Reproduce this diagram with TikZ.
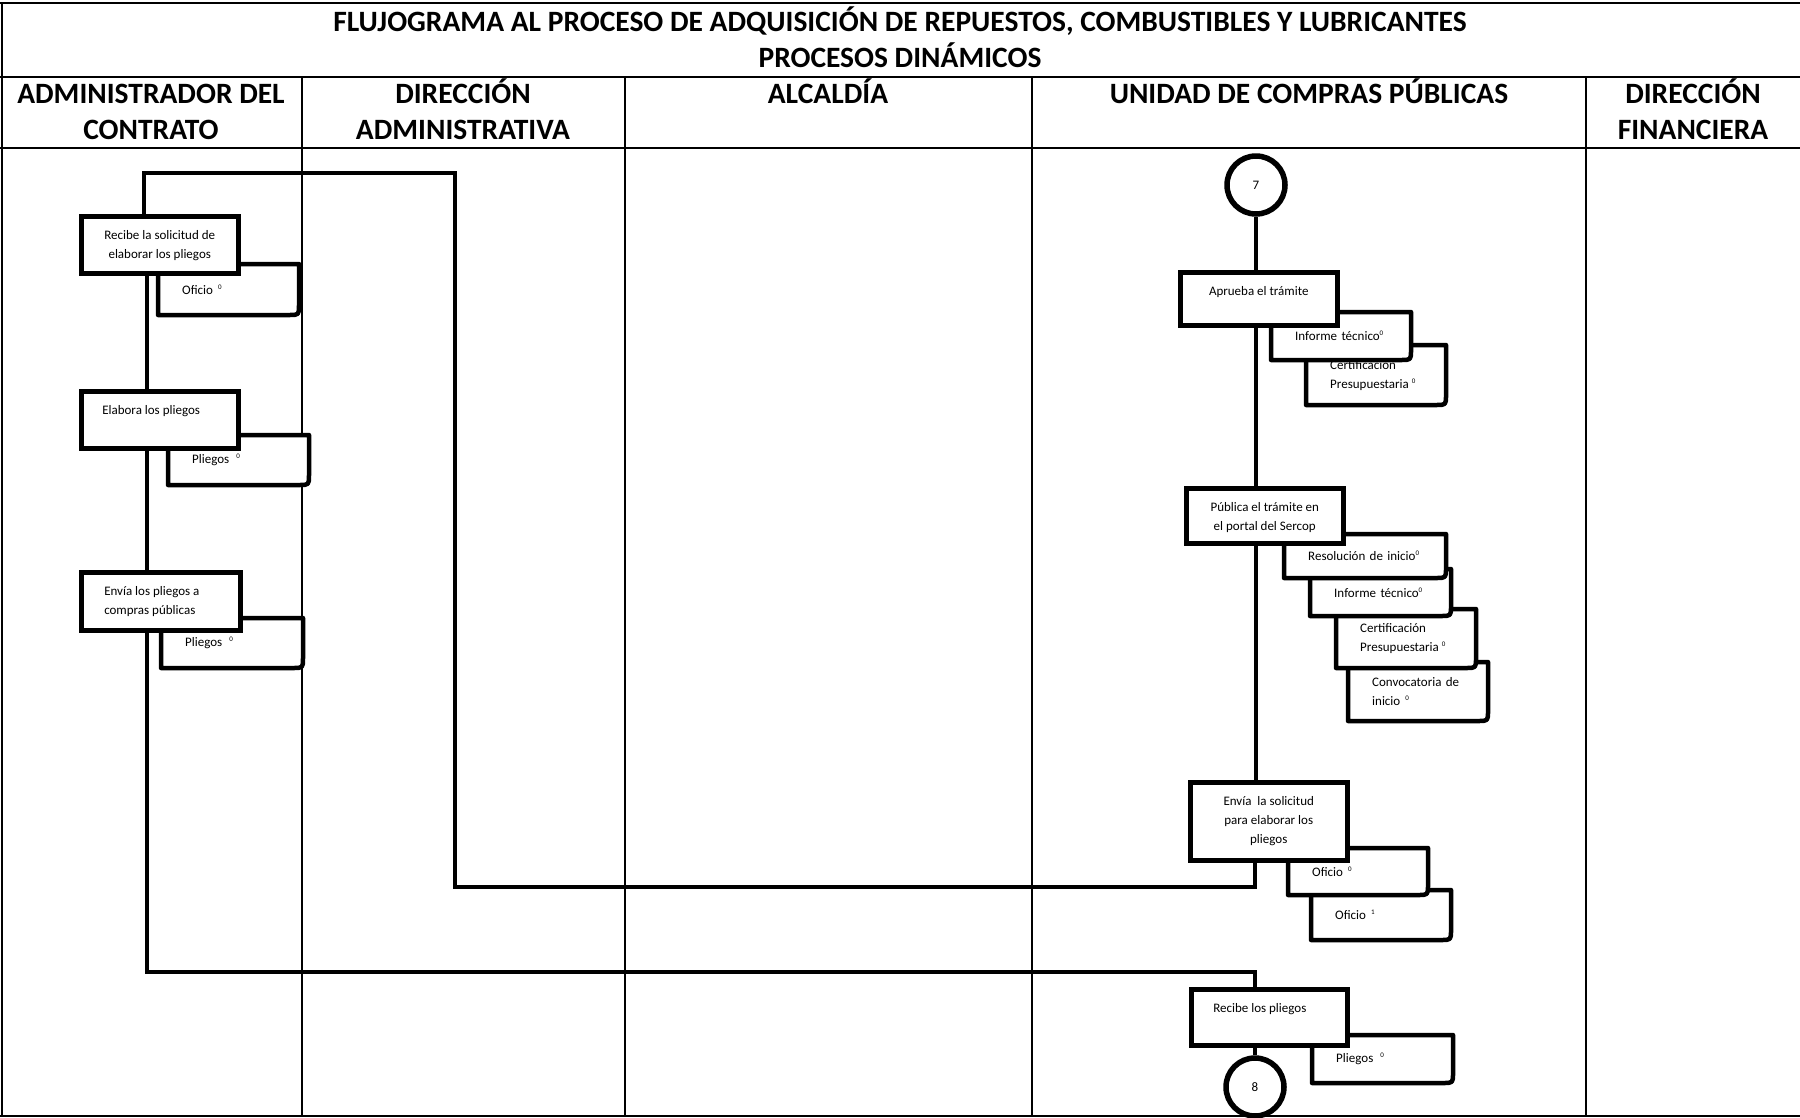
\documentclass[tikz,border=0pt]{standalone}
\usepackage{fontspec}
\setmainfont{Carlito}
\pgfdeclarelayer{bg}
\pgfsetlayers{bg,main}
% small raised index after a document name
\newcommand\supz[1]{\raisebox{5pt}{\fontsize{7}{7}\selectfont #1}}
% process box: name, left, top, right, bottom, alignment, text
\newcommand\procbox[7]{%
  \pgfmathsetmacro\pw{#4-#2}\pgfmathsetmacro\ph{#5-#3}%
  \node[proc, anchor=north west] (#1) at (#2,#3)
    {\parbox[t][\ph pt][t]{\pw pt}{#6\rule{0pt}{23pt}#7}};}
% document shape (bottom-right corner rounded): name, left, top, right, bottom, text
\newcommand\docbox[6]{%
  \pgfmathsetmacro\ph{#5-#3}%
  \path[docout] (#2,#3) -- (#4,#3) -- ([yshift=10pt]#4,#5) .. controls (#4,#5) .. ([xshift=-10pt]#4,#5) -- (#2,#5) -- cycle;
  \node[doctext, anchor=north west, minimum height=\ph pt, text width=200pt] (#1) at (#2,#3) {#6};}
\begin{document}
\begin{tikzpicture}[x=1pt,y=-1pt,
  grid/.style={line width=2pt},
  conn/.style={line width=4.5pt},
  proc/.style={draw, fill=white, line width=4.5pt, inner sep=0pt, font=\fontsize{13}{19}\selectfont},
  docout/.style={draw, fill=white, line width=4.5pt, line join=round},
  doctext/.style={inner xsep=24pt, inner ysep=0pt, align=left, font=\fontsize{13}{19}\selectfont},
  hd/.style={font=\bfseries\fontsize{29.5}{36}\selectfont, inner sep=0pt, anchor=base},
  onpage/.style={draw, fill=white, circle, line width=5.5pt, minimum size=58pt, inner sep=0pt, font=\fontsize{13}{15}\selectfont}]
\useasboundingbox (0,0) rectangle (1800,1117);

% table frame
\draw[grid] (0,3) -- (1800,3);
\draw[grid] (1.5,3) -- (1.5,1116);
\draw[grid] (0,77) -- (1800,77);
\draw[grid] (0,148) -- (1800,148);
\draw[grid] (0,1116) -- (1800,1116);
\foreach \cx in {302,625,1032,1586} \draw[grid] (\cx,77) -- (\cx,1117);

% title and lane headers
\node[hd] (ttl1) at (900,31.5) {FLUJOGRAMA AL PROCESO DE ADQUISICIÓN DE REPUESTOS, COMBUSTIBLES Y LUBRICANTES};
\node[hd] (ttl2) at (900,67) {PROCESOS DINÁMICOS};
\node[hd] (ha1) at (151,103.5) {ADMINISTRADOR DEL};
\node[hd] (ha2) at (151,139.5) {CONTRATO};
\node[hd] (hb1) at (463,103.5) {DIRECCIÓN};
\node[hd] (hb2) at (463,139.5) {ADMINISTRATIVA};
\node[hd] (hc1) at (828,103.5) {ALCALDÍA};
\node[hd] (hd1) at (1309,103.5) {UNIDAD DE COMPRAS PÚBLICAS};
\node[hd] (he1) at (1693,103.5) {DIRECCIÓN};
\node[hd] (he2) at (1693,139.5) {FINANCIERA};

% administrador del contrato
\docbox{oficioA}{158}{264}{299}{315}{Oficio\hspace{5pt}\supz{0}}
\procbox{recsol}{79}{214}{236}{271}{\centering}{Recibe la solicitud de\\elaborar los pliegos}
\docbox{pliegosA}{168}{435}{309}{485}{Pliegos\hspace{7pt}\supz{0}}
\procbox{elab}{79}{389}{236}{446}{\leftskip=21pt\relax}{Elabora los pliegos}
\docbox{pliegosB}{161}{618}{303}{668}{Pliegos\hspace{7pt}\supz{0}}
\procbox{envpl}{79}{570}{238}{628}{\leftskip=23pt\relax}{Envía los pliegos a\\compras públicas}

% unidad de compras publicas
\node[onpage] (c7) at (1256,185) {7};
\docbox{certA}{1306}{345}{1446}{405}{Certificación\\Presupuestaria\hspace{3pt}\supz{0}}
\docbox{infA}{1271}{312}{1411}{360}{Informe técnico\supz{0}}
\procbox{aprueba}{1178}{270}{1335}{323}{\centering}{Aprueba el trámite}
\docbox{conv}{1348}{662}{1488}{721}{Convocatoria de\\inicio\hspace{5pt}\supz{0}}
\docbox{certB}{1336}{609}{1476}{668}{Certificación\\Presupuestaria\hspace{3pt}\supz{0}}
\docbox{infB}{1310}{569}{1451}{616}{Informe técnico\supz{0}}
\docbox{resol}{1284}{534}{1446}{578}{Resolución de inicio\supz{0}}
\procbox{publica}{1184}{486}{1341}{541}{\centering}{Pública el trámite en\\el portal del Sercop}
\docbox{ofB1}{1311}{890}{1451}{940}{Oficio\hspace{5pt}\supz{1}}
\docbox{ofB0}{1288}{848}{1428}{895}{Oficio\hspace{5pt}\supz{0}}
\procbox{envsol}{1188}{780}{1345}{858}{\centering}{Envía\ \ la solicitud\\para elaborar los\\pliegos}
\docbox{plC}{1312}{1035}{1453}{1083}{Pliegos\hspace{7pt}\supz{0}}
\procbox{recpl}{1189}{987}{1345}{1043}{\leftskip=22pt\relax}{Recibe los pliegos}
\node[onpage] (c8) at (1255,1087) {8};

% connectors
\coordinate (spL) at (147,0);
\coordinate (bendA) at (455,887);
\coordinate (bendB) at (144,173);
\coordinate (bendC) at (1255,972);
\begin{pgfonlayer}{bg}
\draw[conn] (c7.south) -- (c7.south |- aprueba.north);
\draw[conn] (aprueba.south -| c7) -- (publica.north -| c7);
\draw[conn] (publica.south -| c7) -- (envsol.north -| c7);
\draw[conn] (envsol.south -| c8) |- (bendA) |- (bendB) -- (bendB |- recsol.north);
\draw[conn] (recsol.south -| spL) -- (elab.north -| spL);
\draw[conn] (elab.south -| spL) -- (envpl.north -| spL);
\draw[conn] (envpl.south -| spL) |- (bendC) -- (bendC |- recpl.north);
\draw[conn] (recpl.south -| c8) -- (c8.north);
\end{pgfonlayer}
\end{tikzpicture}
\end{document}
